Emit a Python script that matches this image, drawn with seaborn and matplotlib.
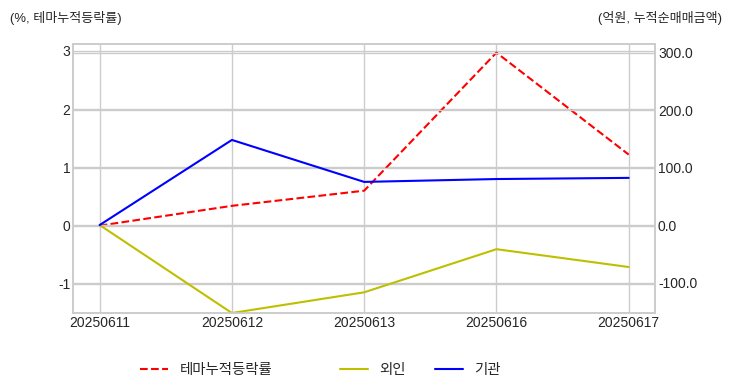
import pandas as pd
import matplotlib
matplotlib.use('Agg')
import matplotlib.pyplot as plt
import seaborn as sns

# data
dates = ['20250611', '20250612', '20250613', '20250616', '20250617']
theme_return = [0.0, 0.34, 0.60, 2.97, 1.22]      # %, 테마누적등락률
foreign_net = [0.0, -153.0, -117.0, -42.0, -73.0]  # 억원, 외인
inst_net = [0.0, 148.0, 75.0, 80.0, 82.0]          # 억원, 기관

sns.set_style('whitegrid')
plt.rcParams['font.family'] = ['Liberation Sans', 'Noto Sans CJK KR', 'DejaVu Sans']
plt.rcParams['axes.unicode_minus'] = False

df = pd.DataFrame({
    'pos': range(len(dates)),
    '테마누적등락률': theme_return,
    '외인': foreign_net,
    '기관': inst_net,
})

fig = plt.figure(figsize=(7.32, 3.92), dpi=100)
ax = fig.add_axes([0.1, 0.2015, 0.795, 0.6865])
ax2 = ax.twinx()

sns.lineplot(data=df, x='pos', y='테마누적등락률', ax=ax, color='red',
             linestyle='--', linewidth=1.5, label='테마누적등락률', legend=False)
sns.lineplot(data=df, x='pos', y='외인', ax=ax2, color='y',
             linewidth=1.5, label='외인', legend=False)
sns.lineplot(data=df, x='pos', y='기관', ax=ax2, color='b',
             linewidth=1.5, label='기관', legend=False)

ax.set_xticks(df['pos'])
ax.set_xticklabels(dates)
ax.set_xlim(-0.2, 4.2)
ax.set_ylim(-1.5, 3.12)
ax.set_yticks([-1, 0, 1, 2, 3])
ax2.set_ylim(-153, 315)
ax2.set_yticks([-100, 0, 100, 200, 300])
ax2.set_yticklabels([f'{v:.1f}' for v in [-100, 0, 100, 200, 300]])
ax2.grid(True, color='#cccccc', linewidth=1)
ax.grid(True, color='#cccccc', linewidth=1)

for a in (ax, ax2):
    a.set_xlabel('')
    a.set_ylabel('')
    a.tick_params(labelsize=10, pad=2, colors='#262626', length=0)
    for s in a.spines.values():
        s.set_color('#cccccc')
        s.set_linewidth(1.2)

fig.text(0.013, 0.955, '(%, 테마누적등락률)', fontsize=9.4, va='center', ha='left', color='#262626')
fig.text(0.987, 0.955, '(억원, 누적순매매금액)', fontsize=9.4, va='center', ha='right', color='#262626')

h1, l1 = ax.get_legend_handles_labels()
h2, l2 = ax2.get_legend_handles_labels()
leg_kw = dict(frameon=False, fontsize=10.4, handlelength=1.95, handletextpad=0.8,
              borderpad=0, borderaxespad=0)
fig.legend(h1, l1, loc='center left', bbox_to_anchor=(0.191, 0.056), **leg_kw)
fig.legend(h2, l2, loc='center left', bbox_to_anchor=(0.464, 0.056), ncol=2,
           columnspacing=2.0, **leg_kw)

fig.savefig('out.png', dpi=100)
